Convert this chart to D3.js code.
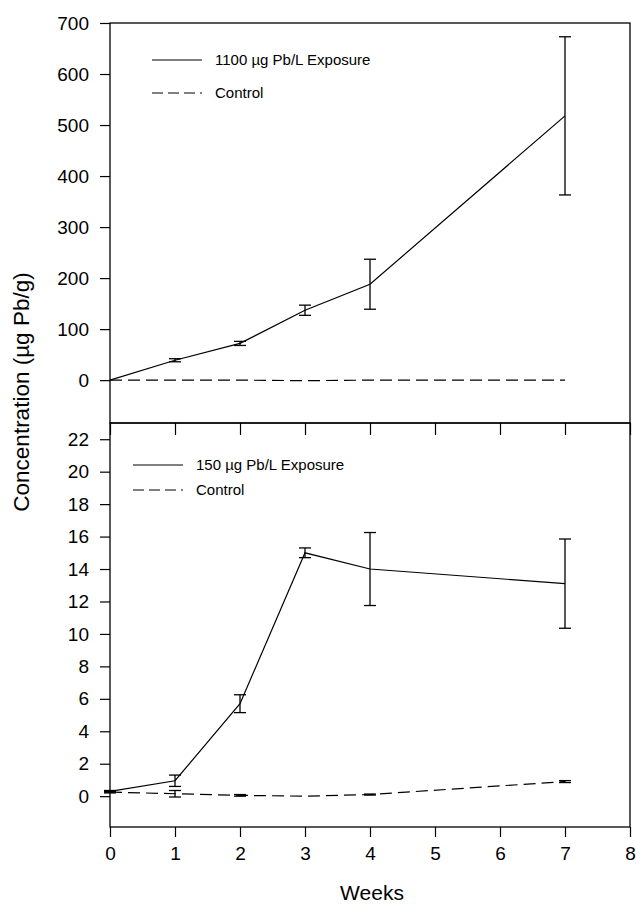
<!DOCTYPE html>
<html>
<head>
<meta charset="utf-8">
<script src="https://cdn.jsdelivr.net/npm/d3@7"></script>
<style>
  body { margin: 0; background: #fff; }
  text { font-family: "Liberation Sans", Arial, sans-serif; fill: #000; }
</style>
</head>
<body>
<div id="chart"></div>
<script>
// data
var weeks = [0, 1, 2, 3, 4, 7];

// upper panel: 1100 ug Pb/L
var highExposure = [0, 39, 72, 137, 188, 518];
var highExposureErr = [0, 3, 4, 10, 49, 155];
var highControl = [0, 0, 0, -1, 0, 0];

// lower panel: 150 ug Pb/L
var lowExposure = [0.3, 0.95, 5.7, 15.0, 14.0, 13.1];
var lowExposureErr = [0.05, 0.35, 0.55, 0.3, 2.25, 2.75];
var lowControl = [0.25, 0.15, 0.05, 0.0, 0.1, 0.9];
var lowControlErr = [0.05, 0.2, 0.05, 0, 0.03, 0.06];

var xTicks = [0, 1, 2, 3, 4, 5, 6, 7, 8];
var topTicks = [0, 100, 200, 300, 400, 500, 600, 700];
var bottomTicks = [0, 2, 4, 6, 8, 10, 12, 14, 16, 18, 20, 22];

var width = 636, height = 906;

var svg = d3.select("#chart").append("svg")
    .attr("width", width)
    .attr("height", height);

// set the ranges
var x = d3.scaleLinear().domain([0, 8]).range([110, 630]);
var yTop = d3.scaleLinear().domain([-84, 700]).range([423, 23]);
var yBot = d3.scaleLinear().domain([-1.9, 23]).range([827, 423]);

function drawPanel(y, ticks, expo, expoErr, ctrl, ctrlErr, label, legendX, legendY, legendGap) {
  var g = svg.append("g");

  // frame
  g.append("rect")
      .attr("x", x(0)).attr("y", y.range()[1])
      .attr("width", x(8) - x(0)).attr("height", y.range()[0] - y.range()[1])
      .attr("fill", "none").attr("stroke", "#000").attr("stroke-width", 1.3);

  // y axis
  var yAxis = g.append("g")
      .attr("transform", "translate(" + x(0) + ",0)")
      .call(d3.axisLeft(y).tickValues(ticks).tickSize(10).tickPadding(11));
  yAxis.select(".domain").remove();
  yAxis.selectAll("text").style("font-size", "19px").style("font-family", "Liberation Sans, Arial, sans-serif");

  var line = d3.line()
      .x(function(d, i) { return x(weeks[i]); })
      .y(function(d) { return y(d); });

  g.append("path")
      .datum(ctrl)
      .attr("fill", "none").attr("stroke", "#000").attr("stroke-width", 1.2)
      .attr("stroke-dasharray", "12,6")
      .attr("d", line);

  g.append("path")
      .datum(expo)
      .attr("fill", "none").attr("stroke", "#000").attr("stroke-width", 1.2)
      .attr("d", line);

  // error bars
  function errBars(vals, errs) {
    vals.forEach(function(v, i) {
      var e = errs[i];
      if (!e) return;
      var cx = x(weeks[i]);
      g.append("line")
          .attr("x1", cx).attr("x2", cx)
          .attr("y1", y(v - e)).attr("y2", y(v + e))
          .attr("stroke", "#000").attr("stroke-width", 1.3);
      [v - e, v + e].forEach(function(c) {
        g.append("line")
            .attr("x1", cx - 6).attr("x2", cx + 6)
            .attr("y1", y(c)).attr("y2", y(c))
            .attr("stroke", "#000").attr("stroke-width", 1.3);
      });
    });
  }
  errBars(expo, expoErr);
  if (ctrlErr) errBars(ctrl, ctrlErr);

  // legend
  g.append("line")
      .attr("x1", legendX).attr("x2", legendX + 50)
      .attr("y1", legendY).attr("y2", legendY)
      .attr("stroke", "#000").attr("stroke-width", 1);
  g.append("text")
      .attr("x", legendX + 63).attr("y", legendY + 5)
      .style("font-size", "15px")
      .text(label);
  g.append("line")
      .attr("x1", legendX).attr("x2", legendX + 50)
      .attr("y1", legendY + legendGap).attr("y2", legendY + legendGap)
      .attr("stroke", "#000").attr("stroke-width", 1)
      .attr("stroke-dasharray", "11,5");
  g.append("text")
      .attr("x", legendX + 63).attr("y", legendY + legendGap + 5)
      .style("font-size", "15px")
      .text("Control");
}

drawPanel(yTop, topTicks, highExposure, highExposureErr, highControl, null,
          "1100 \u00b5g Pb/L Exposure", 152, 60, 33);
drawPanel(yBot, bottomTicks, lowExposure, lowExposureErr, lowControl, lowControlErr,
          "150 \u00b5g Pb/L Exposure", 133, 465, 25);

// x ticks at the panel boundary (pointing down) and at the bottom
var xMid = svg.append("g")
    .attr("transform", "translate(0," + yTop.range()[0] + ")")
    .call(d3.axisBottom(x).tickValues(xTicks).tickSize(12).tickFormat(""));
xMid.select(".domain").remove();

var xAxis = svg.append("g")
    .attr("transform", "translate(0," + yBot.range()[0] + ")")
    .call(d3.axisBottom(x).tickValues(xTicks).tickSize(10).tickPadding(10));
xAxis.select(".domain").remove();
xAxis.selectAll("text").style("font-size", "19px").style("font-family", "Liberation Sans, Arial, sans-serif");

svg.selectAll(".tick line").attr("stroke-width", 1.2);

// axis titles
svg.append("text")
    .attr("x", 372).attr("y", 900)
    .attr("text-anchor", "middle")
    .style("font-size", "21px")
    .text("Weeks");

svg.append("text")
    .attr("transform", "translate(29,392) rotate(-90)")
    .attr("text-anchor", "middle")
    .style("font-size", "22.5px")
    .text("Concentration (\u00b5g Pb/g)");
</script>
</body>
</html>
